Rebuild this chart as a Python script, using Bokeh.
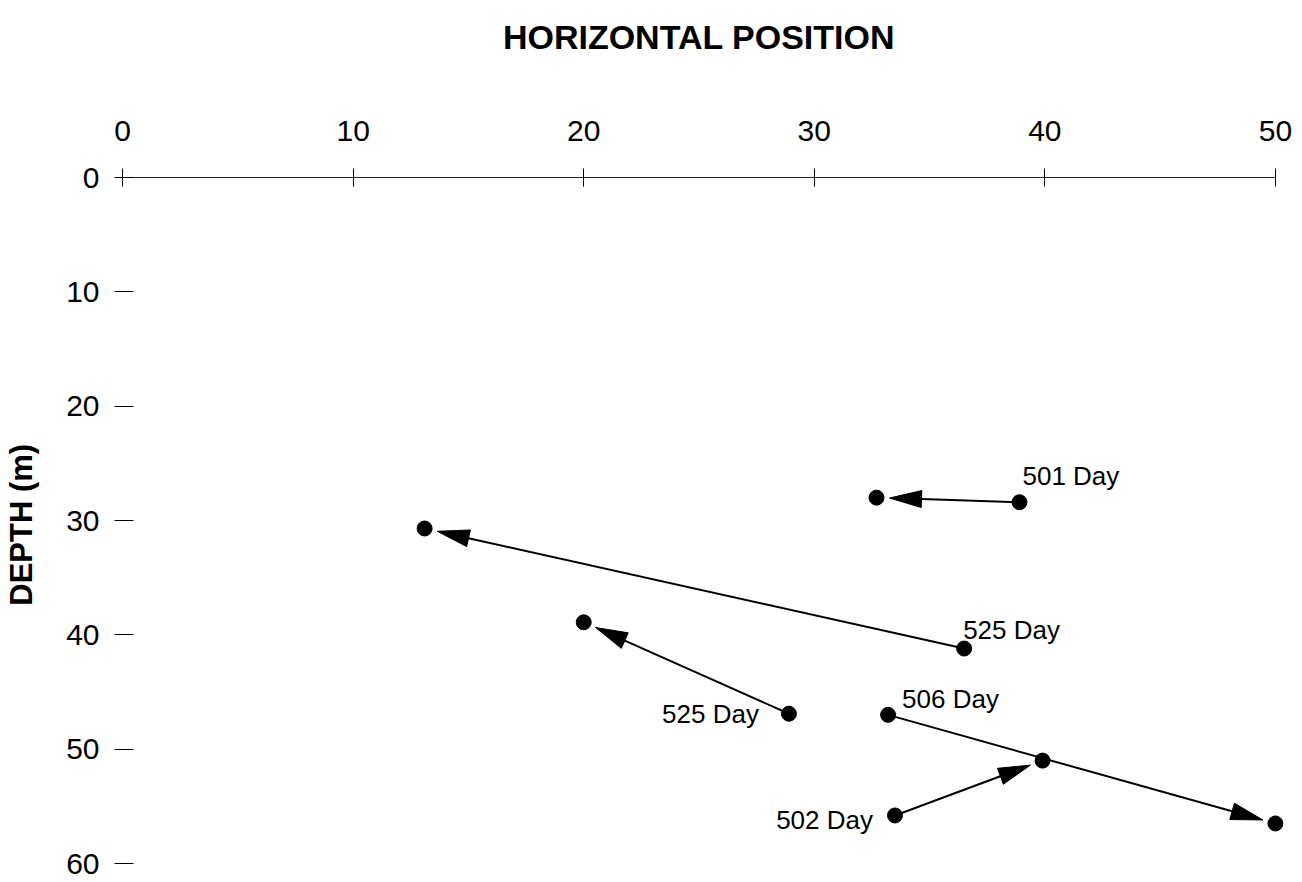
import math

from bokeh.core.properties import value
from bokeh.embed import file_html
from bokeh.models import FixedTicker, Range1d
from bokeh.plotting import figure
from bokeh.resources import INLINE

# Tracked positions: horizontal position and depth (m) at start and end of each move
days = ["501 Day", "525 Day", "525 Day", "506 Day", "502 Day"]
x_start = [38.9, 36.5, 28.9, 33.2, 33.5]
depth_start = [28.4, 41.2, 46.9, 47.0, 55.8]
x_end = [32.7, 13.1, 20.0, 50.0, 39.9]
depth_end = [28.0, 30.7, 38.9, 56.5, 51.0]

x_ticks = [0, 10, 20, 30, 40, 50]
depth_ticks = [0, 10, 20, 30, 40, 50, 60]

# Label placement for each move: alignment and pixel offset from the start point
label_place = [("left", 3, -26), ("left", -1, -19), ("right", -30, 0),
               ("left", 14, -16), ("right", -22, 5)]

FONT = "Liberation Sans"
X_MAX, Y_MAX = 50, 60
X_PAD = 0.35                     # small margin on both sides so edge dots are not clipped
PX_PER_X = 1153 / X_MAX
FRAME_W = round(PX_PER_X * (X_MAX + 2 * X_PAD))
FRAME_H = 686
LEFT = round(122 - X_PAD * PX_PER_X)

p = figure(
    frame_width=FRAME_W, frame_height=FRAME_H,
    x_range=Range1d(-X_PAD, X_MAX + X_PAD), y_range=Range1d(Y_MAX, 0),
    x_axis_location="above",
    min_border_left=LEFT, min_border_right=1302 - LEFT - FRAME_W,
    min_border_top=177, min_border_bottom=882 - 177 - FRAME_H,
    output_backend="svg", toolbar_location=None,
)
p.outline_line_color = None
p.background_fill_color = "white"
p.border_fill_color = "white"
p.grid.grid_line_color = None

# Top axis
xa = p.xaxis[0]
xa.bounds = (0, X_MAX)
xa.ticker = FixedTicker(ticks=x_ticks)
xa.axis_label = "HORIZONTAL POSITION"
xa.axis_label_text_font = FONT
xa.axis_label_text_font_style = "bold"
xa.axis_label_text_font_size = "34px"
xa.axis_label_text_color = "black"
xa.axis_label_standoff = 62
xa.major_label_text_font = FONT
xa.major_label_text_font_size = "30px"
xa.major_label_text_color = "black"
xa.major_label_standoff = 28
xa.major_tick_in = 9
xa.major_tick_out = 9
xa.major_tick_line_color = "black"
xa.minor_tick_line_color = None
xa.axis_line_color = "#222222"
xa.axis_line_width = 1

# Depth axis
ya = p.yaxis[0]
ya.ticker = FixedTicker(ticks=depth_ticks)
ya.axis_label = "DEPTH  (m)"
ya.axis_label_text_font = FONT
ya.axis_label_text_font_style = "bold"
ya.axis_label_text_font_size = "31px"
ya.axis_label_text_color = "black"
ya.axis_label_standoff = 24
ya.major_label_text_font = FONT
ya.major_label_text_font_size = "30px"
ya.major_label_text_color = "black"
ya.major_label_standoff = 15
ya.major_tick_in = 19
ya.major_tick_out = 0
ya.major_tick_line_color = "black"
ya.minor_tick_line_color = None
ya.axis_line_color = None

# Arrows: shaft from start to head, elongated triangular head stopping short of the end point
px_x = FRAME_W / (X_MAX + 2 * X_PAD)
px_y = FRAME_H / Y_MAX
HEAD_LEN, HEAD_W, GAP = 32, 17, 13

shaft_xs, shaft_ys, head_xs, head_ys = [], [], [], []
for x0, y0, x1, y1 in zip(x_start, depth_start, x_end, depth_end):
    ax, ay = x0 * px_x, y0 * px_y
    bx, by = x1 * px_x, y1 * px_y
    dist = math.hypot(bx - ax, by - ay)
    ux, uy = (bx - ax) / dist, (by - ay) / dist
    tipx, tipy = bx - GAP * ux, by - GAP * uy
    basex, basey = tipx - HEAD_LEN * ux, tipy - HEAD_LEN * uy
    nx, ny = -uy, ux
    shaft_xs.append([x0, basex / px_x])
    shaft_ys.append([y0, basey / px_y])
    head_xs.append([tipx / px_x,
                    (basex + nx * HEAD_W / 2) / px_x,
                    (basex - nx * HEAD_W / 2) / px_x])
    head_ys.append([tipy / px_y,
                    (basey + ny * HEAD_W / 2) / px_y,
                    (basey - ny * HEAD_W / 2) / px_y])

p.multi_line(shaft_xs, shaft_ys, line_color="black", line_width=2)
p.patches(head_xs, head_ys, fill_color="black", line_color="black", line_width=1)

p.scatter(x_start + x_end, depth_start + depth_end, size=15,
          fill_color="black", line_color="black")

for name, xs, ys, (align, dx, dy) in zip(days, x_start, depth_start, label_place):
    p.text(x=[xs], y=[ys], text=[name], text_font=value(FONT),
           text_font_size=value("26px"), text_color="black",
           text_align=align, text_baseline="alphabetic",
           x_offset=dx, y_offset=dy)

open("out.html", "w").write(file_html(p, INLINE))
